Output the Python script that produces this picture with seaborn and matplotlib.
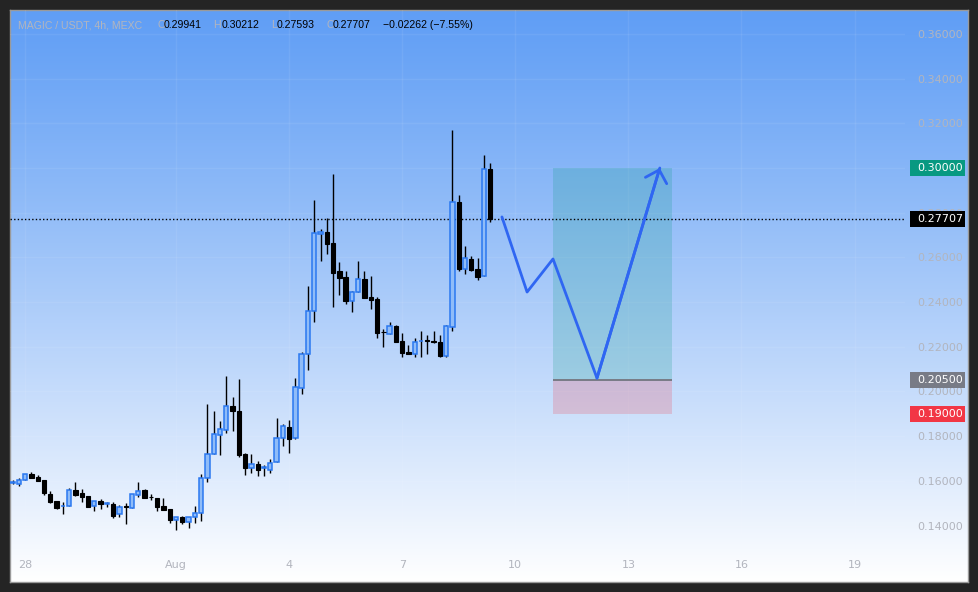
import matplotlib
matplotlib.use("Agg")
import matplotlib.pyplot as plt
import matplotlib.dates as mdates
import matplotlib.transforms as mtransforms
from matplotlib.patches import Rectangle
import numpy as np
import pandas as pd
import seaborn as sns

# MAGIC / USDT 4h candles, first visible bar opens Jul 27 16:00
first_bar = "2023-07-27 16:00"
opens = [
    0.1591, 0.1586, 0.1604, 0.1631, 0.1618, 0.1604, 0.1541, 0.1510, 0.1486, 0.1488,
    0.1559, 0.1546, 0.1532, 0.1488, 0.1510, 0.1496, 0.1497, 0.1452, 0.1485, 0.1479,
    0.1537, 0.1559, 0.1528, 0.1523, 0.1488, 0.1474, 0.1425, 0.1438, 0.1416, 0.1438,
    0.1456, 0.1613, 0.1720, 0.1805, 0.1828, 0.1935, 0.1913, 0.1720, 0.1658, 0.1676,
    0.1657, 0.1649, 0.1685, 0.1792, 0.1841, 0.1792, 0.2016, 0.2168, 0.2360, 0.2705,
    0.2714, 0.2664, 0.2539, 0.2512, 0.2405, 0.2445, 0.2503, 0.2423, 0.2414, 0.2266,
    0.2257, 0.2293, 0.2226, 0.2177, 0.2168, 0.2224, 0.2227, 0.2223, 0.2221, 0.2159,
    0.2289, 0.2848, 0.2548, 0.2593, 0.2548, 0.2517, 0.29941]
highs = [
    0.1604, 0.1613, 0.1631, 0.1640, 0.1626, 0.1604, 0.1555, 0.1510, 0.1506, 0.1568,
    0.1595, 0.1564, 0.1532, 0.1510, 0.1519, 0.1506, 0.1506, 0.1492, 0.1501, 0.1541,
    0.1595, 0.1564, 0.1541, 0.1523, 0.1523, 0.1474, 0.1438, 0.1443, 0.1438, 0.1488,
    0.1631, 0.1944, 0.1913, 0.1868, 0.2069, 0.1975, 0.2056, 0.1725, 0.1720, 0.1689,
    0.1671, 0.1698, 0.1881, 0.1855, 0.1872, 0.2060, 0.2177, 0.2472, 0.2857, 0.2727,
    0.2776, 0.2973, 0.2579, 0.2539, 0.2450, 0.2584, 0.2539, 0.2517, 0.2423, 0.2280,
    0.2311, 0.2298, 0.2262, 0.2208, 0.2239, 0.2271, 0.2253, 0.2271, 0.2253, 0.2298,
    0.3170, 0.2879, 0.2651, 0.2606, 0.2597, 0.3058, 0.30212]
lows = [
    0.1586, 0.1577, 0.1604, 0.1613, 0.1600, 0.1537, 0.1501, 0.1474, 0.1452, 0.1488,
    0.1532, 0.1506, 0.1483, 0.1465, 0.1474, 0.1485, 0.1434, 0.1438, 0.1407, 0.1479,
    0.1528, 0.1523, 0.1514, 0.1465, 0.1470, 0.1412, 0.1380, 0.1407, 0.1389, 0.1412,
    0.1421, 0.1595, 0.1720, 0.1716, 0.1814, 0.1823, 0.1707, 0.1626, 0.1635, 0.1622,
    0.1622, 0.1635, 0.1685, 0.1756, 0.1725, 0.1787, 0.1989, 0.2096, 0.2311, 0.2584,
    0.2615, 0.2378, 0.2432, 0.2391, 0.2356, 0.2445, 0.2418, 0.2369, 0.2239, 0.2199,
    0.2257, 0.2221, 0.2154, 0.2168, 0.2154, 0.2154, 0.2168, 0.2219, 0.2154, 0.2154,
    0.2271, 0.2539, 0.2526, 0.2539, 0.2499, 0.2517, 0.27593]
closes = [
    0.1593, 0.1604, 0.1631, 0.1613, 0.1600, 0.1546, 0.1506, 0.1479, 0.1488, 0.1559,
    0.1537, 0.1528, 0.1483, 0.1510, 0.1497, 0.1498, 0.1443, 0.1483, 0.1483, 0.1541,
    0.1555, 0.1523, 0.1526, 0.1483, 0.1470, 0.1425, 0.1438, 0.1416, 0.1438, 0.1456,
    0.1613, 0.1720, 0.1810, 0.1832, 0.1935, 0.1913, 0.1716, 0.1658, 0.1676, 0.1649,
    0.1659, 0.1680, 0.1792, 0.1846, 0.1787, 0.2020, 0.2168, 0.2360, 0.2709, 0.2714,
    0.2660, 0.2530, 0.2508, 0.2405, 0.2445, 0.2503, 0.2418, 0.2409, 0.2262, 0.2264,
    0.2293, 0.2221, 0.2172, 0.2168, 0.2221, 0.2226, 0.2225, 0.2221, 0.2159, 0.2293,
    0.2848, 0.2548, 0.2597, 0.2544, 0.2512, 0.2994, 0.27707]

last_price = 0.27707
take_profit = 0.30
entry = 0.205
stop_loss = 0.19
position_start = "2023-08-11 00:00"
position_end = "2023-08-14 04:00"

# hand drawn forecast path
path_times = ["2023-08-09 15:30", "2023-08-10 07:30", "2023-08-11 00:00",
              "2023-08-12 04:00", "2023-08-13 20:00"]
path_prices = [0.2781, 0.2445, 0.2593, 0.2060, 0.3000]

price_ticks = [0.14, 0.16, 0.18, 0.20, 0.22, 0.24, 0.26, 0.28, 0.30, 0.32, 0.34, 0.36]
date_ticks = ["2023-07-28", "2023-08-01", "2023-08-04", "2023-08-07",
              "2023-08-10", "2023-08-13", "2023-08-16", "2023-08-19"]
date_labels = ["28", "Aug", "4", "7", "10", "13", "16", "19"]

# price boxes on the right scale
box_prices = [take_profit, last_price, entry, stop_loss]
box_colors = ["#089981", "#000000", "#787b86", "#f23645"]

UP_FILL = "#8fbcf8"
UP_EDGE = "#2a78f0"
GRAY = "#b2b5be"

sns.set_style("white")
plt.rcParams["font.family"] = ["DejaVu Sans"]

W, H = 979, 592
fig = plt.figure(figsize=(W / 100, H / 100), dpi=100)
fig.patch.set_facecolor("#242424")

# gradient backdrop
bg_ax = fig.add_axes([10 / W, 10 / H, 958 / W, 572 / H], zorder=0)
top = np.array([96, 158, 245]) / 255
t = np.linspace(0, 1, 400) ** 1.1
grad = top[None, :] + (1 - top[None, :]) * t[:, None]
bg_ax.imshow(grad[:, None, :], aspect="auto", extent=[0, 1, 0, 1])
bg_ax.set_xticks([])
bg_ax.set_yticks([])
for s in bg_ax.spines.values():
    s.set_color("#9a9a9a")
    s.set_linewidth(1)

ax = fig.add_axes([10 / W, (H - 553) / H, 895 / W, 543 / H], zorder=2)
ax.set_facecolor("none")

df = pd.DataFrame({"time": pd.date_range(first_bar, periods=len(opens), freq="4h"),
                   "open": opens, "high": highs, "low": lows, "close": closes})
df["x"] = mdates.date2num(df["time"])
df["up"] = df["close"] >= df["open"]
df["bottom"] = df[["open", "close"]].min(axis=1)
df["body"] = np.maximum((df["close"] - df["open"]).abs(), 0.00035)

# wicks then bodies
ax.vlines(df["x"], df["low"], df["high"], color="black", lw=1, zorder=3)
up = df[df["up"]]
down = df[~df["up"]]
ax.bar(up["x"], up["body"], bottom=up["bottom"], width=0.115,
       color=UP_FILL, edgecolor=UP_EDGE, linewidth=1.1, zorder=4)
ax.bar(down["x"], down["body"], bottom=down["bottom"], width=0.115,
       color="black", edgecolor="black", linewidth=0.8, zorder=4)

# current price line
ax.axhline(last_price, color="black", ls=(0, (1, 1.6)), lw=1.0, zorder=3)

# long position tool
x0 = mdates.date2num(pd.Timestamp(position_start))
x1 = mdates.date2num(pd.Timestamp(position_end))
ax.add_patch(Rectangle((x0, entry), x1 - x0, take_profit - entry,
                       facecolor="#089981", alpha=0.2, lw=0, zorder=2))
ax.add_patch(Rectangle((x0, stop_loss), x1 - x0, entry - stop_loss,
                       facecolor="#f23645", alpha=0.2, lw=0, zorder=2))
ax.hlines(entry, x0, x1, color="#787b86", lw=1.4, zorder=3)

# forecast path with open arrow head
px = mdates.date2num(pd.to_datetime(path_times))
sns.lineplot(x=px, y=path_prices, sort=False, estimator=None, color="#2f66f2",
             lw=2, ax=ax, zorder=5)
ax.annotate("", xy=(px[-1], path_prices[-1]), xytext=(px[-2], path_prices[-2]),
            arrowprops=dict(arrowstyle="->,head_length=0.4,head_width=0.4",
                            color="#2f66f2", lw=2, mutation_scale=20,
                            shrinkA=0, shrinkB=0), zorder=5)

# scales
aug1 = mdates.date2num(pd.Timestamp("2023-08-01"))
ax.set_xlim(aug1 - 4.403, aug1 + 19.337)
ax.set_ylim(0.12774, 0.37069)
ax.set_xticks(mdates.date2num(pd.to_datetime(date_ticks)))
ax.set_xticklabels(date_labels)
ax.set_yticks(price_ticks)
ax.set_yticklabels(["{:.5f}".format(v) for v in price_ticks])
ax.yaxis.tick_right()
ax.tick_params(axis="y", length=0, pad=8.6, labelsize=8, labelcolor=GRAY)
ax.tick_params(axis="x", length=0, pad=5.4, labelsize=8, labelcolor=GRAY)
ax.set_xlabel("")
ax.set_ylabel("")
ax.grid(True, color="white", alpha=0.07, lw=1)
for s in ax.spines.values():
    s.set_visible(False)

# coloured price labels
trans = mtransforms.blended_transform_factory(ax.transAxes, ax.transData)
box_h = 16 / 2235
for p, c in zip(box_prices, box_colors):
    ax.add_patch(Rectangle((1.0056, p - box_h / 2), 0.0615, box_h, transform=trans,
                           facecolor=c, lw=0, clip_on=False, zorder=6))
    ax.text(1.0134, p, "{:.5f}".format(p), transform=trans, ha="left",
            va="center", color="white", fontsize=8, clip_on=False, zorder=7)

# header legend
hy = 1 - 25 / H
pieces = [
    (18, "MAGIC / USDT, 4h, MEXC", GRAY),
    (157, "O", GRAY), (164, "0.29941", "black"),
    (213, "H", GRAY), (222, "0.30212", "black"),
    (271, "L", GRAY), (277, "0.27593", "black"),
    (327, "C", GRAY), (333, "0.27707", "black"),
    (383, "\u22120.02262 (\u22127.55%)", "black"),
]
for xp, txt, col in pieces:
    fig.text(xp / W, hy, txt, color=col, fontsize=7.6, va="center", ha="left",
             family=["Liberation Sans", "DejaVu Sans"])

fig.savefig("out.png", dpi=100, facecolor=fig.get_facecolor())
